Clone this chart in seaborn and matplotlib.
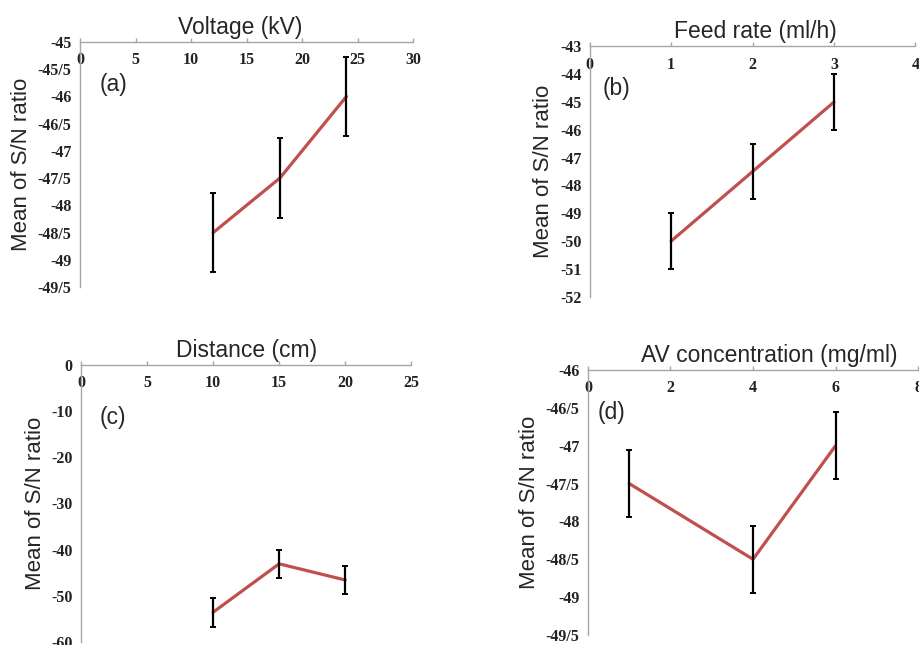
import numpy as np
import matplotlib
matplotlib.use('Agg')
import matplotlib.pyplot as plt
import seaborn as sns
from matplotlib.ticker import FuncFormatter

# values
voltage = [12, 18, 24]
sn_voltage = [-48.5, -47.5, -46.0]
err_voltage = [0.73, 0.73, 0.73]

feed_rate = [1, 2, 3]
sn_feed = [-50.0, -47.5, -45.0]
err_feed = [1.0, 1.0, 1.0]

distance = [10, 15, 20]
sn_distance = [-53.6, -43.1, -46.6]
err_distance = [3.1, 3.0, 3.1]

concentration = [1, 4, 6]
sn_conc = [-47.5, -48.5, -47.0]
err_conc = [0.44, 0.44, 0.44]

titles = ['Voltage (kV)', 'Feed rate (ml/h)', 'Distance (cm)', 'AV concentration (mg/ml)']
letters = ['(a)', '(b)', '(c)', '(d)']

sns.set_theme(style='white')
plt.rcParams['font.family'] = ['Liberation Sans', 'DejaVu Sans']

red = '#C0504D'
grey = '#A6A6A6'
tick_font = dict(family='Liberation Serif', weight='bold', size=11.5)

fig = plt.figure(figsize=(9.2, 6.45), dpi=100)
# axes boxes in figure fractions (left, bottom, width, height)
boxes = [[0.087, 0.555, 0.362, 0.380],
         [0.641, 0.540, 0.354, 0.388],
         [0.088, 0.005, 0.359, 0.429],
         [0.639, 0.0155, 0.359, 0.411]]
xs = [voltage, feed_rate, distance, concentration]
ys = [sn_voltage, sn_feed, sn_distance, sn_conc]
errs = [err_voltage, err_feed, err_distance, err_conc]
xticks = [np.arange(0, 31, 5), np.arange(0, 5, 1), np.arange(0, 26, 5), np.arange(0, 9, 2)]
yticks = [np.arange(-45, -49.6, -0.5), np.arange(-43, -52.1, -1),
          np.arange(0, -61, -10), np.arange(-46, -49.6, -0.5)]
letter_pos = [(0.06, 0.825), (0.04, 0.83), (0.058, 0.81), (0.03, 0.84)]
title_x = [0.48, 0.51, 0.5, 0.55]

for i in range(4):
    ax = fig.add_axes(boxes[i])
    sns.lineplot(x=xs[i], y=ys[i], color=red, lw=2.3, ax=ax, zorder=2)
    ax.errorbar(xs[i], ys[i], yerr=errs[i], fmt='none', ecolor='black',
                elinewidth=1.6, capsize=2, capthick=1.4, zorder=3)

    ax.set_xlim(xticks[i][0], xticks[i][-1])
    ax.set_ylim(yticks[i][-1], yticks[i][0])
    ax.set_xticks(xticks[i])
    ax.set_yticks(yticks[i])
    ax.yaxis.set_major_formatter(FuncFormatter(lambda v, p: f'{v:g}'.replace('.', '/')))

    for s in ['bottom', 'right']:
        ax.spines[s].set_visible(False)
    for s in ['top', 'left']:
        ax.spines[s].set_color(grey)
        ax.spines[s].set_linewidth(1.0)

    ax.xaxis.tick_top()
    ax.tick_params(axis='x', direction='out', length=3, color=grey, width=1, pad=-22)
    ax.tick_params(axis='y', direction='out', length=3, color=grey, width=1, pad=3)
    for lab in ax.get_xticklabels() + ax.get_yticklabels():
        lab.set_fontproperties(tick_font)
        lab.set_color('#222222')

    ax.set_title(titles[i], fontsize=16.5, x=title_x[i], pad=6)
    ax.set_ylabel('Mean of S/N ratio', fontsize=16, labelpad=4)
    ax.set_xlabel('')
    ax.text(letter_pos[i][0], letter_pos[i][1], letters[i], transform=ax.transAxes,
            fontsize=16.5, va='center', ha='left')

fig.savefig('out.png', dpi=100)
